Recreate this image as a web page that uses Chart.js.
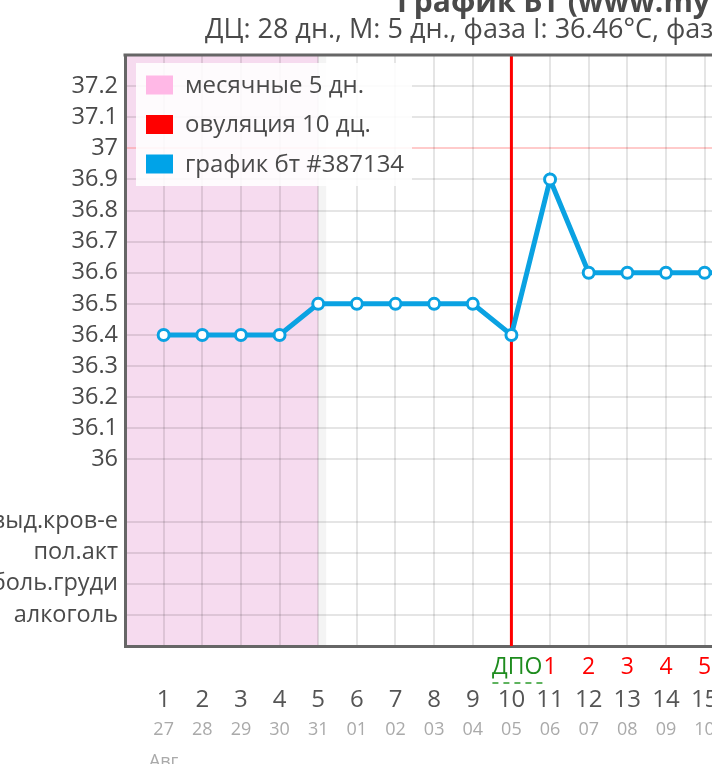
<!DOCTYPE html>
<html>
<head>
<meta charset="utf-8">
<script src="https://cdn.jsdelivr.net/npm/chart.js@4.4.1/dist/chart.umd.min.js"></script>
<style>
  html, body { margin: 0; padding: 0; background: #fff; overflow: hidden; }
  #wrap { width: 712px; height: 764px; overflow: hidden; }
</style>
</head>
<body>
<div id="wrap"><canvas id="bbtChart" width="1280" height="764"></canvas></div>
<script>
// cycle days and calendar dates (27 Jul .. 23 Aug)
const days = [1, 2, 3, 4, 5, 6, 7, 8, 9, 10, 11, 12, 13, 14, 15, 16, 17, 18, 19, 20, 21, 22, 23, 24, 25, 26, 27, 28];
const dates = ['27', '28', '29', '30', '31', '01', '02', '03', '04', '05', '06', '07', '08', '09', '10',
               '11', '12', '13', '14', '15', '16', '17', '18', '19', '20', '21', '22', '23'];
const months = ['Авг'];

// basal temperature, days 1..16
const temps = [36.4, 36.4, 36.4, 36.4, 36.5, 36.5, 36.5, 36.5, 36.5, 36.4, 36.9, 36.6, 36.6, 36.6, 36.6, 36.6];

const mensesDays = 5;
const ovulationDay = 10;

// y ticks: temperature scale plus the note rows below it
const yTicks = [35.5, 35.6, 35.7, 35.8, 36, 36.1, 36.2, 36.3, 36.4, 36.5, 36.6, 36.7, 36.8, 36.9, 37, 37.1, 37.2];
const yLabels = ['алкоголь', 'боль.груди', 'пол.акт', 'выд.кров-е', '36', '36.1', '36.2', '36.3', '36.4', '36.5',
                 '36.6', '36.7', '36.8', '36.9', '37', '37.1', '37.2'];

// days past ovulation row
const dpoDays = days.filter(d => d >= ovulationDay);
const dpoLabels = dpoDays.map(d => d === ovulationDay ? '\u2002ДПО' : String(d - ovulationDay));

const legendLabels = ['месячные 5 дн.', 'овуляция 10 дц.', 'график бт #387134'];
const legendColors = ['#ffb8e6', '#ff0000', '#00a3e8'];

const titleText = 'График БТ (www.mymonthlycycles.ru)';
const subtitleText = 'ДЦ: 28 дн., М: 5 дн., фаза I: 36.46°C, фаза II: 36.63°C';

const FONT = '"Open Sans", "DejaVu Sans", sans-serif';
const textColor = '#4a4a4a';

const bbtDecor = {
    id: 'bbtDecor',
    beforeDraw(chart) {
        const { ctx, chartArea } = chart;
        const x = chart.scales.x;
        const x0 = x.getPixelForValue(0);
        const x5 = x.getPixelForValue(mensesDays);
        ctx.save();
        ctx.fillStyle = '#f6dbef';
        ctx.fillRect(x0, chartArea.top, x5 - x0, chartArea.bottom - chartArea.top);
        ctx.fillStyle = 'rgba(0,0,0,0.045)';
        ctx.fillRect(x5, chartArea.top, 8, chartArea.bottom - chartArea.top);

        // titles
        ctx.fillStyle = textColor;
        ctx.textAlign = 'left';
        ctx.textBaseline = 'alphabetic';
        ctx.font = 'bold 30px ' + FONT;
        ctx.fillText(titleText, 397, 12);
        ctx.font = '27px ' + FONT;
        ctx.fillText(subtitleText, 205, 38);
        ctx.restore();
    },
    beforeDatasetsDraw(chart) {
        const { ctx, chartArea } = chart;
        const xo = chart.scales.x.getPixelForValue(ovulationDay);
        ctx.save();
        ctx.strokeStyle = '#ff0000';
        ctx.lineWidth = 3;
        ctx.beginPath();
        ctx.moveTo(xo, chartArea.top);
        ctx.lineTo(xo, chartArea.bottom);
        ctx.stroke();

        // top frame line
        ctx.strokeStyle = '#666';
        ctx.lineWidth = 3;
        ctx.beginPath();
        ctx.moveTo(chartArea.left - 1.5, chartArea.top);
        ctx.lineTo(chartArea.right, chartArea.top);
        ctx.stroke();

        // legend box
        ctx.fillStyle = 'rgba(255,255,255,0.88)';
        ctx.fillRect(136, 63, 276, 123);
        ctx.font = '24px ' + FONT;
        ctx.textBaseline = 'middle';
        ctx.textAlign = 'left';
        legendLabels.forEach((label, i) => {
            const cy = 85 + i * 39.5;
            ctx.fillStyle = legendColors[i];
            ctx.fillRect(146, cy - 9.5, 27, 19);
            ctx.fillStyle = textColor;
            ctx.fillText(label, 185, cy + 1);
        });

        // dashed underline under ДПО
        const xd = chart.scales.dpo.getPixelForValue(ovulationDay) + 5;
        ctx.strokeStyle = '#2a9a2a';
        ctx.lineWidth = 1.5;
        ctx.setLineDash([6, 5]);
        ctx.beginPath();
        ctx.moveTo(xd - 24, 683);
        ctx.lineTo(xd + 30, 683);
        ctx.stroke();
        ctx.restore();
    }
};

const bottomAxis = (extra) => Object.assign({
    type: 'linear',
    position: 'bottom',
    min: 0,
    max: 29,
    grid: { display: false, drawTicks: false },
    border: { display: false },
}, extra);

const ctx = document.getElementById('bbtChart').getContext('2d');

const bbtChart = new Chart(ctx, {
    type: 'line',
    data: {
        datasets: [{
            label: legendLabels[2],
            data: temps.map((t, i) => ({ x: days[i], y: t })),
            xAxisID: 'x',
            yAxisID: 'y',
            borderColor: '#0aa2e2',
            borderWidth: 5,
            pointRadius: 5.5,
            pointBorderWidth: 3,
            pointBackgroundColor: '#fff',
            pointBorderColor: '#0aa2e2',
            tension: 0,
            fill: false,
        }]
    },
    options: {
        responsive: false,
        animation: false,
        layout: { padding: { top: 55, left: 0, right: 34.4, bottom: 0 } },
        plugins: {
            legend: { display: false },
            tooltip: { enabled: false },
        },
        scales: {
            y: {
                type: 'linear',
                position: 'left',
                min: 35.4,
                max: 37.3,
                afterFit: s => { s.width = 125; },
                afterBuildTicks: s => { s.ticks = yTicks.map(v => ({ value: v })); },
                grid: {
                    drawTicks: false,
                    lineWidth: 2,
                    color: c => (c.tick && c.tick.value === 37) ? 'rgba(255,140,140,0.45)' : 'rgba(0,0,0,0.1)',
                },
                border: { color: '#666', width: 3 },
                ticks: {
                    padding: 7,
                    color: textColor,
                    font: { family: FONT, size: 23.5 },
                    callback: (v, i) => yLabels[i],
                },
            },
            dpo: bottomAxis({
                weight: 0,
                border: { display: true, color: '#666', width: 3 },
                afterFit: s => { s.height = 38; },
                afterBuildTicks: s => { s.ticks = dpoDays.map(v => ({ value: v })); },
                ticks: {
                    autoSkip: false,
                    maxRotation: 0,
                    padding: 8,
                    font: { family: FONT, size: 23 },
                    color: c => c.index === 0 ? '#1e8c1e' : '#ff0000',
                    callback: (v, i) => dpoLabels[i],
                },
            }),
            x: bottomAxis({
                weight: 1,
                grid: { display: true, drawTicks: false, lineWidth: 2, color: 'rgba(0,0,0,0.1)' },
                afterFit: s => { s.height = 32; },
                afterBuildTicks: s => { s.ticks = days.map(v => ({ value: v })); },
                ticks: {
                    autoSkip: false,
                    maxRotation: 0,
                    padding: 2,
                    color: '#555',
                    font: { family: FONT, size: 24 },
                    callback: (v, i) => String(days[i]),
                },
            }),
            date: bottomAxis({
                weight: 2,
                afterFit: s => { s.height = 30; },
                afterBuildTicks: s => { s.ticks = days.map(v => ({ value: v })); },
                ticks: {
                    autoSkip: false,
                    maxRotation: 0,
                    padding: 3,
                    color: '#aaa',
                    font: { family: FONT, size: 18 },
                    callback: (v, i) => dates[i],
                },
            }),
            month: bottomAxis({
                weight: 3,
                afterFit: s => { s.height = 18; },
                afterBuildTicks: s => { s.ticks = [{ value: days[0] }]; },
                ticks: {
                    autoSkip: false,
                    maxRotation: 0,
                    padding: 5,
                    color: '#aaa',
                    font: { family: FONT, size: 18 },
                    callback: (v, i) => months[i],
                },
            }),
        },
    },
    plugins: [bbtDecor],
});
</script>
</body>
</html>
